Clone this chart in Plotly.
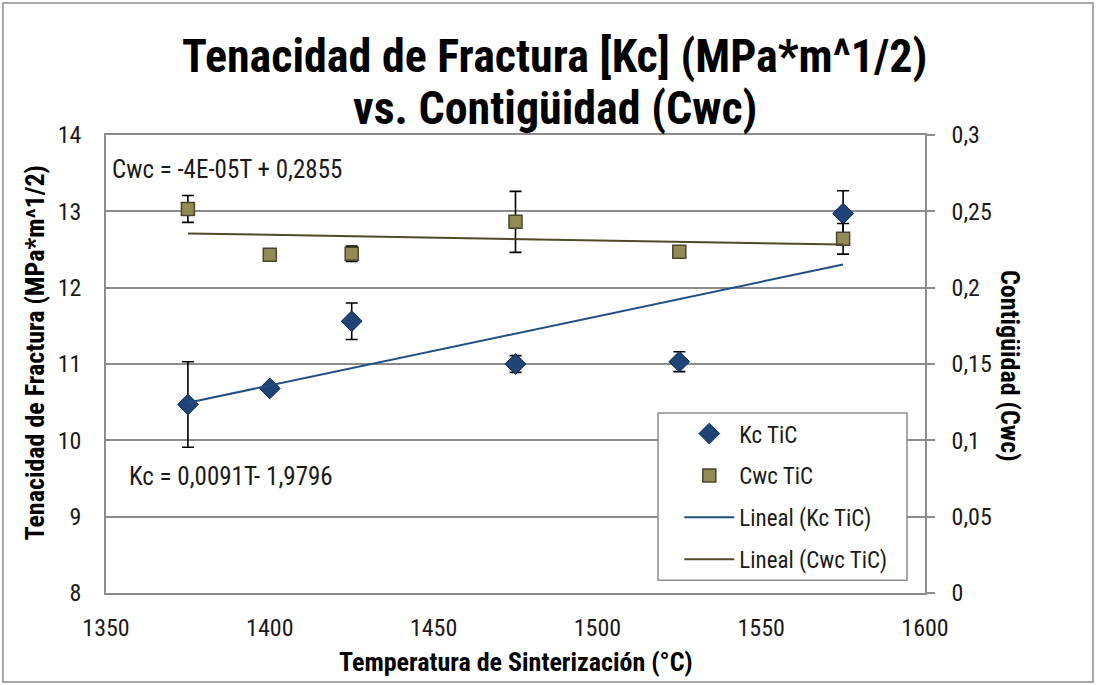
import numpy as np
import plotly.graph_objects as go

# Sintering temperature (°C) and measured values
temps = [1375, 1400, 1425, 1475, 1525, 1575]
kc_vals = [10.47, 10.68, 11.56, 11.00, 11.03, 12.97]
kc_err = [0.56, 0.05, 0.24, 0.11, 0.13, 0.30]
cwc_vals = [0.2516, 0.2216, 0.2222, 0.2431, 0.2235, 0.2320]
cwc_err = [0.0088, 0.002, 0.005, 0.020, 0.002, 0.010]

x_ticks = [1350, 1400, 1450, 1500, 1550, 1600]
y_ticks = [8, 9, 10, 11, 12, 13, 14]
y2_ticks = [0, 0.05, 0.10, 0.15, 0.20, 0.25, 0.30]
y2_labels = ["0", "0,05", "0,1", "0,15", "0,2", "0,25", "0,3"]

NARROW = "Roboto Condensed, Liberation Sans Narrow, Arial Narrow, sans-serif"
GRID = "#8C8C8C"
TXT = "#1A1A1A"

# least-squares linear trends
t = np.array(temps, dtype=float)
kc_fit = np.polyfit(t, kc_vals, 1)
cwc_fit = np.polyfit(t, cwc_vals, 1)
t_line = np.array([min(temps), max(temps)], dtype=float)

fig = go.Figure()

fig.add_trace(go.Scatter(
    x=temps, y=kc_vals, mode="markers", name="Kc TiC", legendgroup="a",
    marker=dict(symbol="diamond", size=16, color="#1F4478",
                line=dict(color="#132C4F", width=1)),
    error_y=dict(type="data", array=kc_err, color="black", thickness=1.6, width=6),
    yaxis="y"))

fig.add_trace(go.Scatter(
    x=temps, y=cwc_vals, mode="markers", name="Cwc TiC", legendgroup="b",
    marker=dict(symbol="square", size=13, color="#938B55",
                line=dict(color="#4A452D", width=1.5)),
    error_y=dict(type="data", array=cwc_err, color="black", thickness=1.6, width=6),
    yaxis="y2"))

fig.add_trace(go.Scatter(
    x=t_line, y=np.polyval(kc_fit, t_line), mode="lines", name="Lineal (Kc TiC)",
    legendgroup="c", line=dict(color="#1F4E85", width=2), yaxis="y"))

fig.add_trace(go.Scatter(
    x=t_line, y=np.polyval(cwc_fit, t_line), mode="lines", name="Lineal (Cwc TiC)",
    legendgroup="d", line=dict(color="#4F4A2A", width=2), yaxis="y2"))

annotations = [
    dict(text="<b>Tenacidad de Fractura [Kc] (MPa*m^1/2)</b>", x=0.548, y=1.172,
         xref="paper", yref="paper", xanchor="center", yanchor="middle",
         showarrow=False, font=dict(family=NARROW, size=46, color="black")),
    dict(text="<b>vs. Contigüidad (Cwc)</b>", x=0.548, y=1.060,
         xref="paper", yref="paper", xanchor="center", yanchor="middle",
         showarrow=False, font=dict(family=NARROW, size=46, color="black")),
    dict(text="<b>Temperatura de Sinterización (°C)</b>", x=0.5, y=-0.1507,
         xref="paper", yref="paper", xanchor="center", yanchor="middle",
         showarrow=False, font=dict(family=NARROW, size=26, color="black")),
    dict(text="<b>Tenacidad de Fractura (MPa*m^1/2)</b>", x=-0.0867, y=0.5250,
         xref="paper", yref="paper", xanchor="center", yanchor="middle", textangle=-90,
         showarrow=False, font=dict(family=NARROW, size=26, color="black")),
    dict(text="<b>Contigüidad (Cwc)</b>", x=1.1038, y=0.4956,
         xref="paper", yref="paper", xanchor="center", yanchor="middle", textangle=90,
         showarrow=False, font=dict(family=NARROW, size=26, color="black")),
    dict(text="Cwc = -4E-05T + 0,2855", x=0.0049, y=0.9236,
         xref="paper", yref="paper", xanchor="left", yanchor="middle",
         showarrow=False, font=dict(family=NARROW, size=25, color=TXT)),
    dict(text="Kc = 0,0091T- 1,9796", x=0.0256, y=0.2533,
         xref="paper", yref="paper", xanchor="left", yanchor="middle",
         showarrow=False, font=dict(family=NARROW, size=25, color=TXT)),
]

shapes = [
    # legend frame
    dict(type="rect", xref="paper", yref="paper", x0=0.674, x1=0.978, y0=0.028, y1=0.393,
         line=dict(color=GRID, width=1.5), fillcolor="white", layer="above"),
    # outer chart frame
    dict(type="rect", xref="paper", yref="paper", x0=-0.1258, x1=1.2051, y0=-0.1943, y1=1.2882,
         line=dict(color=GRID, width=1.5), fillcolor="rgba(0,0,0,0)", layer="below"),
]

fig.update_layout(
    width=1097, height=685, autosize=False,
    margin=dict(l=106, r=172, t=135, b=92),
    paper_bgcolor="white", plot_bgcolor="white",
    font=dict(family=NARROW, color=TXT),
    showlegend=True,
    legend=dict(x=0.70, y=0.395, xanchor="left", yanchor="top",
                bgcolor="rgba(0,0,0,0)", borderwidth=0,
                font=dict(family=NARROW, size=23, color=TXT),
                tracegroupgap=9, itemwidth=50),
    xaxis=dict(range=[1350, 1600], tickvals=x_ticks, showgrid=False, zeroline=False,
               showline=True, linecolor=GRID, linewidth=1.5, mirror=True, ticks="",
               tickfont=dict(family=NARROW, size=24, color=TXT), ticklabelstandoff=12),
    yaxis=dict(range=[8, 14], tickvals=y_ticks, showgrid=True, gridcolor=GRID, gridwidth=1.5,
               zeroline=False, showline=True, linecolor=GRID, linewidth=1.5, mirror=True,
               ticks="", tickfont=dict(family=NARROW, size=24, color=TXT),
               ticklabelstandoff=18),
    yaxis2=dict(range=[0, 0.3], tickvals=y2_ticks, ticktext=y2_labels, overlaying="y",
                side="right", showgrid=False, zeroline=False, showline=True,
                linecolor=GRID, linewidth=1.5, ticks="outside", ticklen=8,
                tickcolor=GRID, tickwidth=1.5,
                tickfont=dict(family=NARROW, size=24, color=TXT), ticklabelstandoff=12),
    annotations=annotations,
    shapes=shapes,
)

fig.write_html("out.html")
